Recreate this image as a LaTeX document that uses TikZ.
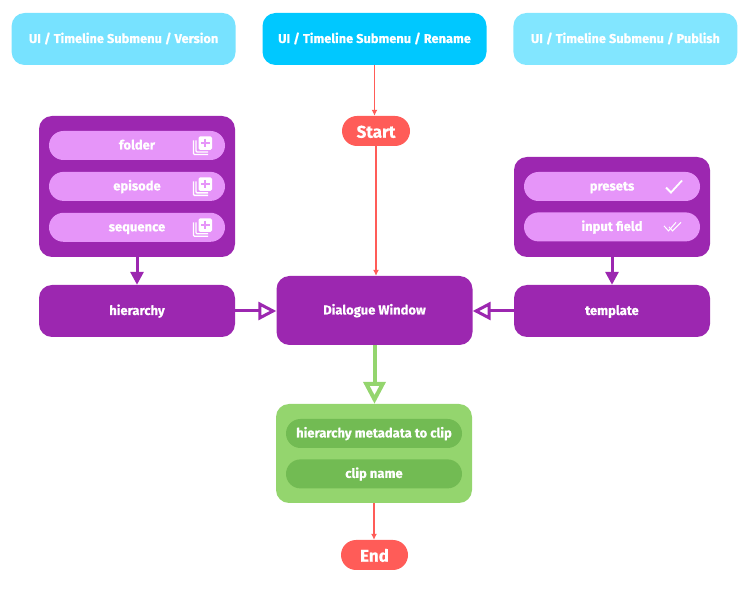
\documentclass[tikz,border=0pt]{standalone}
\usepackage{fontspec}
\setmainfont[BoldFeatures={FakeBold=0.5}]{Fira Sans}
\usetikzlibrary{positioning,arrows.meta}

\definecolor{uilight}{HTML}{77E2FF}
\definecolor{uipale}{HTML}{82E6FF}
\definecolor{uifull}{HTML}{00C8FF}
\definecolor{purpledark}{HTML}{9C27B0}
\definecolor{purplepale}{HTML}{E695F9}
\definecolor{greenpale}{HTML}{94D56E}
\definecolor{greendark}{HTML}{72BB53}
\definecolor{redflow}{HTML}{FF5C58}

\begin{document}
\begin{tikzpicture}[
x=1pt, y=-1pt,
node distance = 10pt and 26pt,
box/.style={rectangle, rounded corners=13pt, text=white, inner sep=0pt, text height=10pt, text depth=2pt, font=\fontsize{13}{15}\selectfont\bfseries},
ui/.style={box, minimum width=224pt, minimum height=52pt, font=\fontsize{12.8}{15}\selectfont\bfseries},
group/.style={box, fill=purpledark, minimum width=196pt},
flow/.style={box, fill=purpledark, minimum width=196pt, minimum height=52pt},
pill/.style={box, fill=purplepale, rounded corners=14.5pt, minimum width=176pt, minimum height=29pt},
greenpill/.style={pill, fill=greendark},
terminal/.style={box, fill=redflow, rounded corners=15pt, minimum height=30pt, text height=15pt, text depth=1.5pt, font=\fontsize{17}{20}\selectfont\bfseries},
thin link/.style={-{Latex[length=6pt,width=6pt]}, draw=redflow, line width=1.2pt},
solid link/.style={-{Triangle[length=13pt,width=13pt]}, draw=purpledark, line width=3pt},
open link/.style={-{Triangle[open,length=18pt,width=18pt,fill=white]}, draw=purpledark, line width=3pt},
green link/.style={-{Triangle[open,length=22pt,width=22pt,fill=white]}, draw=greenpale, line width=4pt},
addicon/.pic={
  \draw[white, line width=1.3pt, rounded corners=1pt] (-8.5,-5) -- (-8.5,9) -- (6,9);
  \draw[white, line width=1.3pt, rounded corners=1pt] (-6,-5) -- (-6,6.5) -- (6,6.5);
  \fill[white, rounded corners=1.5pt] (-3.5,-9) rectangle (10,4.5);
  \draw[purplepale, line width=1.6pt] (3.25,-6.5) -- (3.25,2) (-1,-2.25) -- (7.5,-2.25);
},
checkicon/.pic={
  \draw[white, line width=1.8pt] (-8,1) -- (-3,6) -- (8,-6);
},
doublecheckicon/.pic={
  \draw[white, line width=1pt] (-9,-1) -- (-4.5,4) -- (3,-4.5);
  \draw[white, line width=1pt] (-4,0) -- (-0.5,4) -- (8,-4.5);
}]

\useasboundingbox (0,0) rectangle (756,593);

% top row
\node[ui, fill=uifull] (rename) at (374.5,39) {UI / Timeline Submenu / Rename};
\node[ui, fill=uilight, left = 26.5pt of rename] (version) {UI / Timeline Submenu / Version};
\node[ui, fill=uipale, right = 26.5pt of rename] (publish) {UI / Timeline Submenu / Publish};

\node[terminal, minimum width=68pt] (start) at (376,131) {Start};

% hierarchy side
\node[group, minimum height=141pt] (hgroup) at (137,186.5) {};
\node[pill] (folder) at (137,145.5) {folder};
\node[pill, below = 11.5pt of folder] (episode) {episode};
\node[pill, below = 11.5pt of episode] (sequence) {sequence};
\path (folder.center) ++(65,0) pic {addicon};
\path (episode.center) ++(65,0) pic {addicon};
\path (sequence.center) ++(65,0) pic {addicon};
\node[flow] (hierarchy) at (137,311) {hierarchy};

% template side
\node[group, minimum height=100pt] (tgroup) at (612,207) {};
\node[pill] (presets) at (612,186.5) {presets};
\node[pill, below = 11pt of presets] (input) {input field};
\path (presets.center) ++(62,0) pic {checkicon};
\path (input.center) ++(61,0) pic {doublecheckicon};
\node[flow] (template) at (612,311) {template};

% middle
\node[flow, minimum height=69pt] (dialogue) at (374.5,310.5) {Dialogue Window};
\node[group, fill=greenpale, minimum height=99pt] (ggroup) at (374,453.5) {};
\node[greenpill] (meta) at (374,433.5) {hierarchy metadata to clip};
\node[greenpill, below = 11pt of meta] (clip) {clip name};
\node[terminal, minimum width=67pt] (end) at (374.5,555) {End};

\draw[thin link] (rename.south) -- (rename.south |- start.north);
\draw[thin link] (start.south) -- (start.south |- dialogue.north);
\draw[thin link] (ggroup.south) -- (ggroup.south |- end.north);

\draw[solid link] (hgroup) -- (hierarchy);
\draw[solid link] (tgroup) -- (template);

\draw[open link] (hierarchy) -- (hierarchy -| dialogue.west);
\draw[open link] (template) -- (template -| dialogue.east);
\draw[green link] (dialogue) -- (ggroup.north -| dialogue);
\end{tikzpicture}
\end{document}
